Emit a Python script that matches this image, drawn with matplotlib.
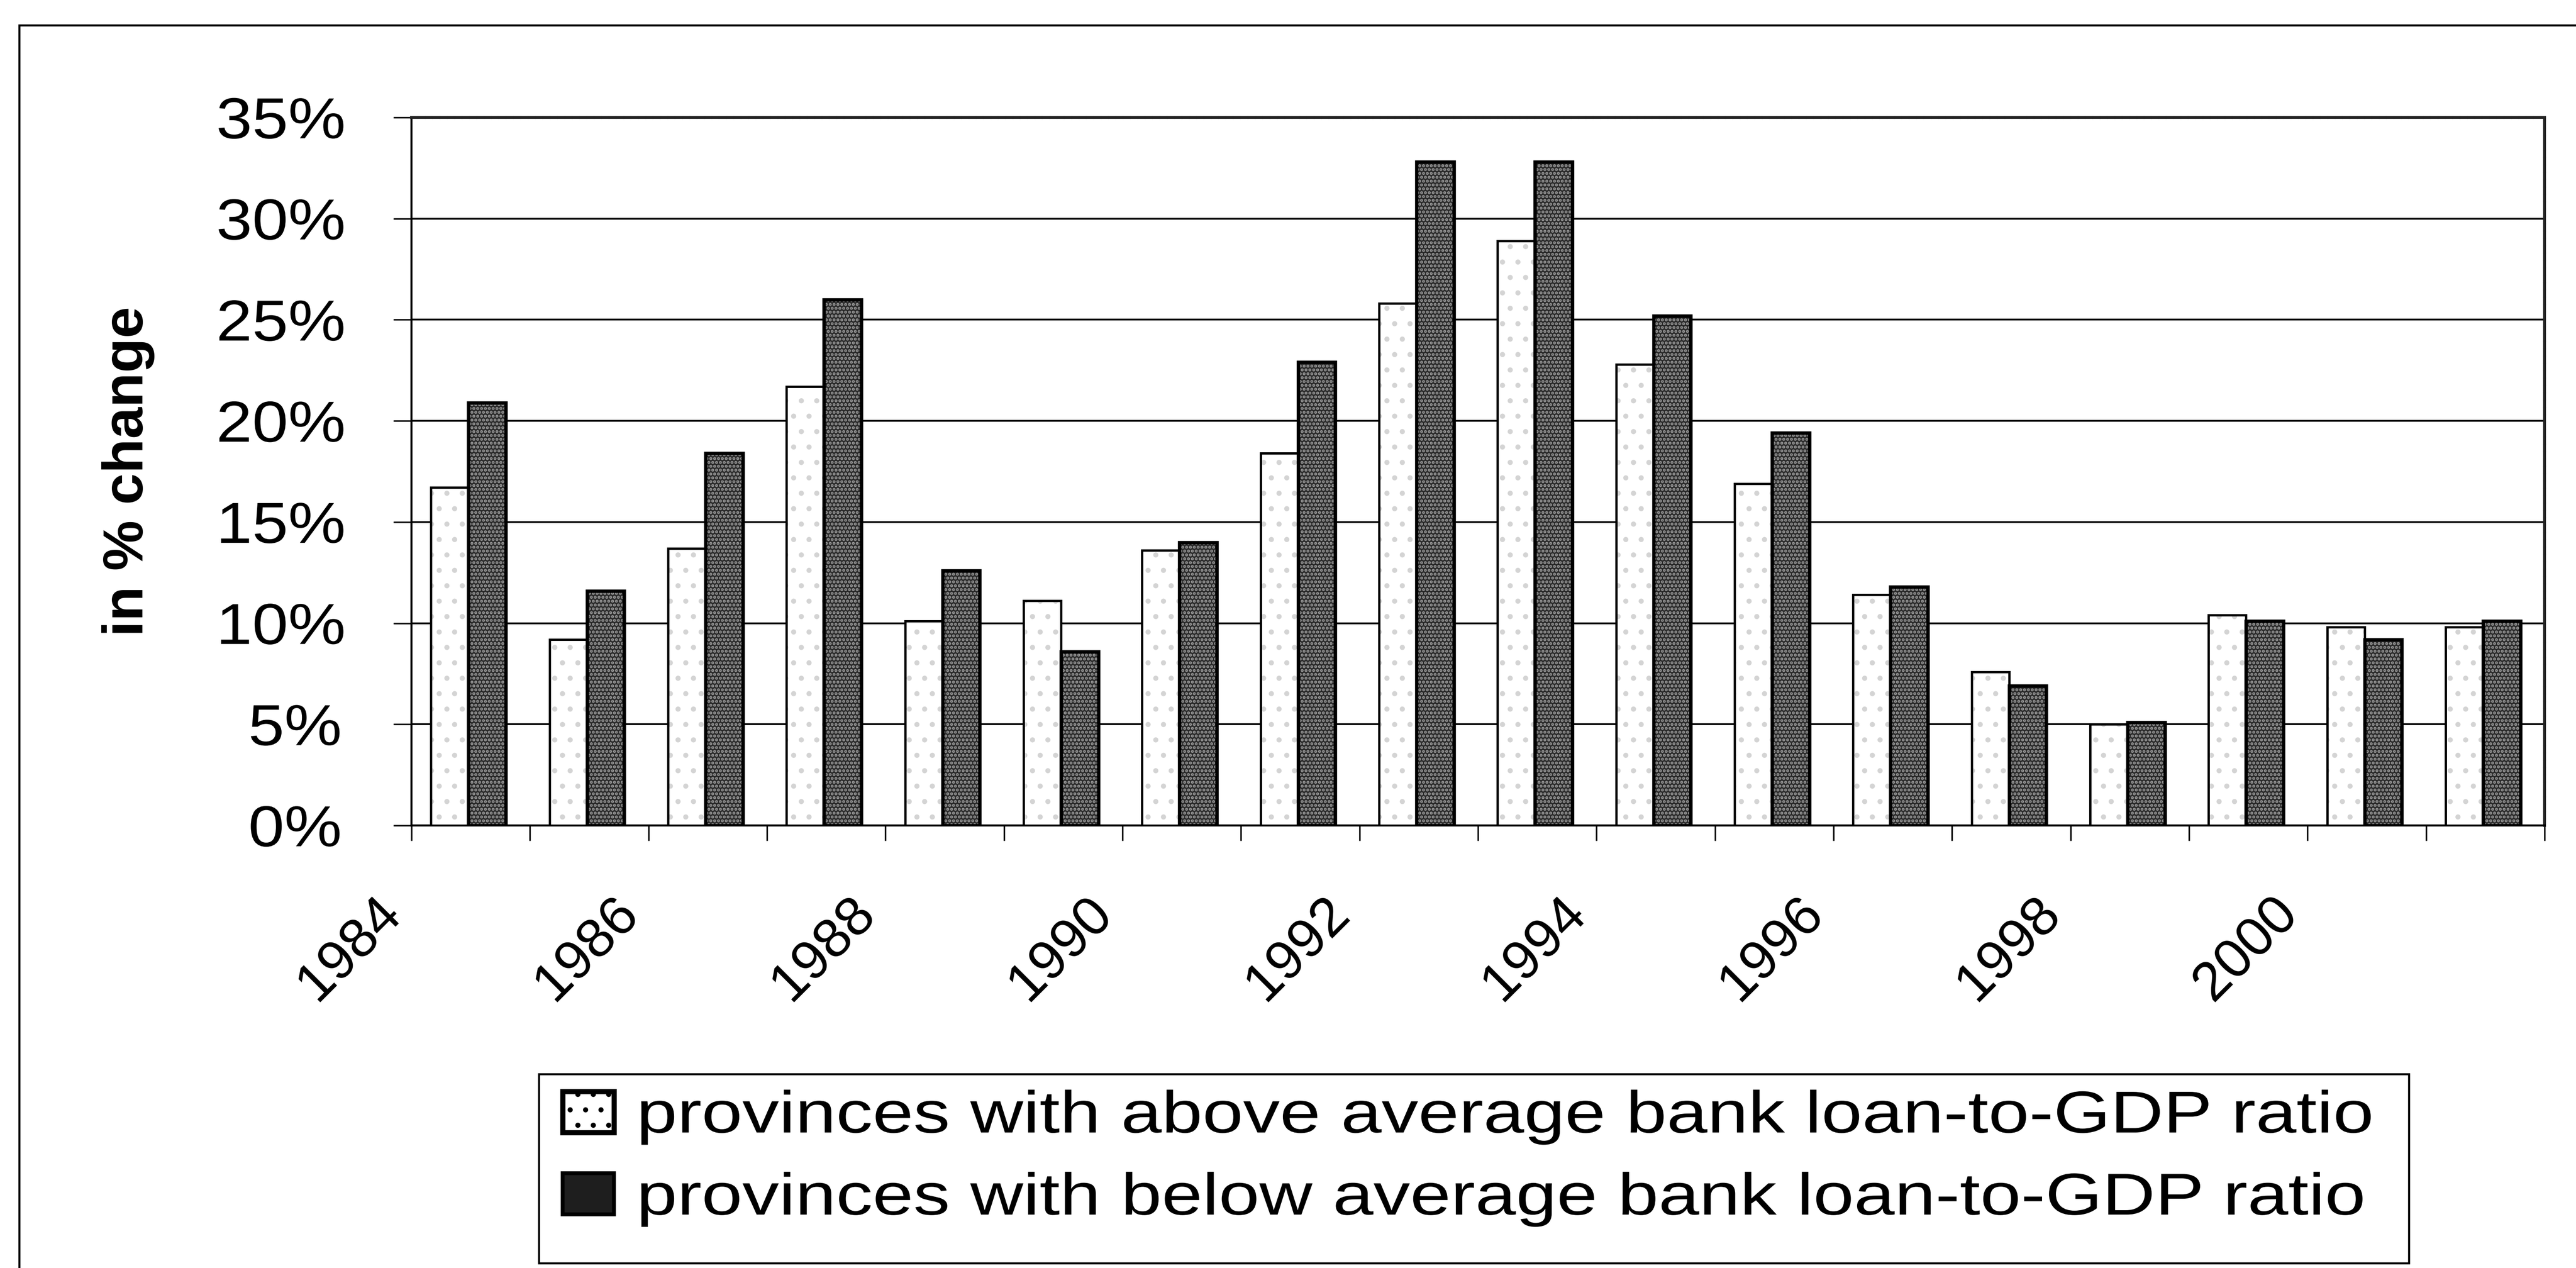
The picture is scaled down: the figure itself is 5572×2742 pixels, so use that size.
import matplotlib.pyplot as plt
from matplotlib.patches import Patch, Rectangle
from matplotlib.transforms import Affine2D
from matplotlib import patheffects
import numpy as np

plt.rcParams['font.family'] = ['Liberation Sans', 'DejaVu Sans']
plt.rcParams['hatch.linewidth'] = 1.6

# data (percent change)
years = [1984, 1985, 1986, 1987, 1988, 1989, 1990, 1991, 1992,
         1993, 1994, 1995, 1996, 1997, 1998, 1999, 2000, 2001]
above_avg = [16.7, 9.2, 13.7, 21.7, 10.1, 11.1, 13.6, 18.4, 25.8,
             28.9, 22.8, 16.9, 11.4, 7.6, 5.0, 10.4, 9.8, 9.8]
below_avg = [20.9, 11.6, 18.4, 26.0, 12.6, 8.6, 14.0, 22.9, 32.8,
             32.8, 25.2, 19.4, 11.8, 6.9, 5.1, 10.1, 9.2, 10.1]
y_ticks = [0, 5, 10, 15, 20, 25, 30, 35]
legend_labels = ["provinces with above average bank loan-to-GDP ratio",
                 "provinces with below average bank loan-to-GDP ratio"]


# the scan uses wide letter spacing; widen the glyphs along the baseline
class StretchX(patheffects.AbstractPathEffect):
    def __init__(self, sx):
        super().__init__()
        self.sx = sx

    def draw_path(self, renderer, gc, tpath, affine, rgbFace=None):
        renderer.draw_path(gc, tpath, Affine2D().scale(self.sx, 1) + affine, rgbFace)


W, H = 5572, 2742
fig = plt.figure(figsize=(W / 200, H / 200), dpi=200)

# plot area in pixels of the original: x 890..5504, y 254..1785
ax = fig.add_axes([890 / W, (H - 1785) / H, (5504 - 890) / W, (1785 - 254) / H])

x = np.arange(len(years))
bw = 0.315
# white bars
ax.bar(x - 0.177, above_avg, bw, color='white', edgecolor='black', linewidth=1.8, zorder=3)
ax.bar(x - 0.177, above_avg, bw, color='none', edgecolor='#d4d4d4', hatch='.', linewidth=0, zorder=3)
ax.bar(x - 0.177, above_avg, bw, color='none', edgecolor='black', linewidth=1.8, zorder=4)
# dark stippled bars
ax.bar(x + 0.138, below_avg, bw, color='#2b2b2b', edgecolor='black', linewidth=2.6, zorder=3)
ax.bar(x + 0.138, below_avg, bw, color='none', edgecolor='#9a9a9a', hatch='....', linewidth=0, zorder=3)
ax.bar(x + 0.138, below_avg, bw, color='none', edgecolor='black', linewidth=2.6, zorder=4)

ax.set_xlim(-0.5, len(years) - 0.5)
ax.set_ylim(0, 35)

# y axis
ax.set_yticks(y_ticks)
ax.set_yticklabels([f"{v}%" for v in y_ticks], fontsize=45)
ax.tick_params(axis='y', direction='out', length=14, width=1.2, pad=48)
for t in ax.get_yticklabels():
    t.set_path_effects([StretchX(1.12)])
ax.yaxis.grid(True, color='black', linewidth=1.4)
ax.get_ygridlines()[-1].set_visible(False)
ax.set_axisbelow(True)

# x axis: ticks between categories, every other year labelled
bounds = np.arange(len(years) + 1) - 0.5
xlabels = [str(years[k]) if (k % 2 == 0 and k < len(years) - 1) else '' for k in range(len(bounds))]
ax.set_xticks(bounds)
ax.set_xticklabels(xlabels, fontsize=43, rotation=45, ha='right', va='top')
ax.tick_params(axis='x', direction='out', length=12, width=1.2, pad=36)

for side in ['left', 'bottom']:
    ax.spines[side].set_linewidth(1.6)
    ax.spines[side].set_color('black')
for side in ['top', 'right']:
    ax.spines[side].set_linewidth(2.2)
    ax.spines[side].set_color('#222222')
    ax.spines[side].set_linestyle((0, (2, 0.6)))

ax.set_ylabel("in % change", fontsize=44, fontweight='bold')
ax.yaxis.set_label_coords((335 - 890) / (5504 - 890), 0.5)

# outer chart frame and legend frame
fig.patches.append(Rectangle((42 / W, -0.05), 1.1, 1 - 55 / H + 0.05, transform=fig.transFigure,
                             fill=False, edgecolor='black', linewidth=1.6, clip_on=False))
fig.patches.append(Rectangle((1166 / W, (H - 2732) / H), (5211 - 1166) / W, (2732 - 2323) / H,
                             transform=fig.transFigure, fill=False, edgecolor='black',
                             linewidth=1.6))

handles = [Patch(facecolor='white', edgecolor='black', linewidth=4, hatch='.'),
           Patch(facecolor='#1e1e1e', edgecolor='black', linewidth=3)]
leg = fig.legend(handles, legend_labels, loc='upper left', bbox_to_anchor=(1217 / W, (H - 2356) / H),
                 frameon=False, fontsize=46, handlelength=0.87, handleheight=0.69,
                 handletextpad=0.38, labelspacing=0.45, borderpad=0, borderaxespad=0)
for t in leg.get_texts():
    t.set_path_effects([StretchX(1.24)])

fig.savefig("out.png", dpi=200)
